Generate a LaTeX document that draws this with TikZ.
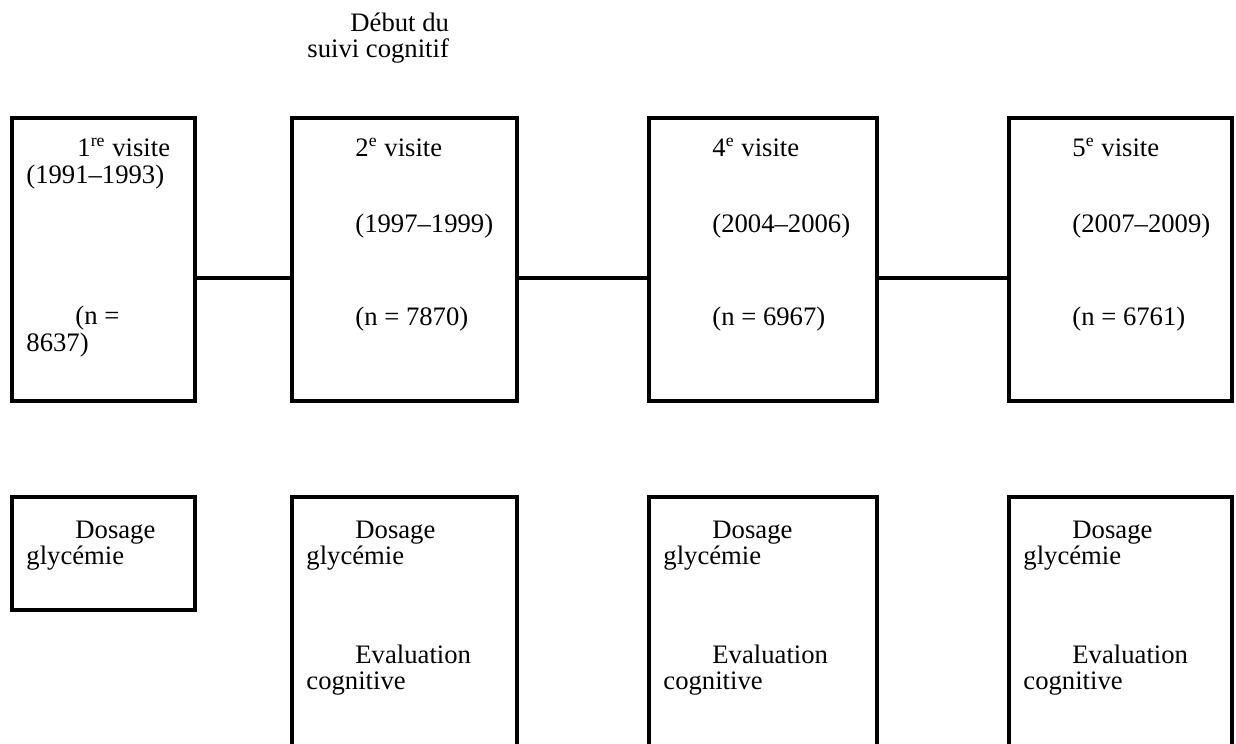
\documentclass[tikz,border=0pt]{standalone}
\usepackage{fontspec}
\setmainfont{Liberation Serif}
\usetikzlibrary{fit}
\begin{document}
\begin{tikzpicture}[x=0.45pt,y=-0.45pt,
  boxstyle/.style={draw, line width=1.8pt, inner sep=0pt},
  txt/.style={anchor=base west, inner sep=0pt, font=\fontsize{12pt}{14pt}\selectfont},
  link/.style={line width=1.8pt}]
\useasboundingbox (0,0) rectangle (1236,743);
\clip (0,0) rectangle (1236,743);
% upper boxes
\node[boxstyle, fit={(12,118) (195,401)}] (b1) {};
\node[boxstyle, fit={(292,118) (517,401)}] (b2) {};
\node[boxstyle, fit={(649,118) (877,401)}] (b3) {};
\node[boxstyle, fit={(1009,118) (1232,401)}] (b4) {};
% lower boxes
\node[boxstyle, fit={(12,497) (195,610)}] (l1) {};
\node[boxstyle, fit={(292,497) (517,790)}] (l2) {};
\node[boxstyle, fit={(649,497) (877,790)}] (l3) {};
\node[boxstyle, fit={(1009,497) (1232,790)}] (l4) {};
% connectors
\draw[link] ([yshift=-8.3pt]b1.east) -- ([yshift=-8.3pt]b2.west);
\draw[link] ([yshift=-8.3pt]b2.east) -- ([yshift=-8.3pt]b3.west);
\draw[link] ([yshift=-8.3pt]b3.east) -- ([yshift=-8.3pt]b4.west);
% heading
\node[txt] (h1) at (350,31) {Début du};
\node[txt] (h2) at (307,57) {suivi cognitif};
% box 1 text
\node[txt] (t1a) at (77,156) {1\textsuperscript{re} visite};
\node[txt] (t1b) at (26,183) {(1991–1993)};
\node[txt] (t1c) at (75,324) {(n =};
\node[txt] (t1d) at (26,351) {8637)};
% box 2 text
\node[txt] (t2a) at (355,156) {2\textsuperscript{e} visite};
\node[txt] (t2b) at (355,232) {(1997–1999)};
\node[txt] (t2c) at (355,325) {(n = 7870)};
% box 3 text
\node[txt] (t3a) at (712,156) {4\textsuperscript{e} visite};
\node[txt] (t3b) at (712,232) {(2004–2006)};
\node[txt] (t3c) at (712,325) {(n = 6967)};
% box 4 text
\node[txt] (t4a) at (1072,156) {5\textsuperscript{e} visite};
\node[txt] (t4b) at (1072,232) {(2007–2009)};
\node[txt] (t4c) at (1072,325) {(n = 6761)};
% lower texts
\node[txt] (d1a) at (75,538) {Dosage};
\node[txt] (d1b) at (26,564) {glycémie};
\node[txt] (d2a) at (355,538) {Dosage};
\node[txt] (d2b) at (306,564) {glycémie};
\node[txt] (e2a) at (355,663) {Evaluation};
\node[txt] (e2b) at (306,689) {cognitive};
\node[txt] (d3a) at (712,538) {Dosage};
\node[txt] (d3b) at (663,564) {glycémie};
\node[txt] (e3a) at (712,663) {Evaluation};
\node[txt] (e3b) at (663,689) {cognitive};
\node[txt] (d4a) at (1072,538) {Dosage};
\node[txt] (d4b) at (1023,564) {glycémie};
\node[txt] (e4a) at (1072,663) {Evaluation};
\node[txt] (e4b) at (1023,689) {cognitive};
\end{tikzpicture}
\end{document}
